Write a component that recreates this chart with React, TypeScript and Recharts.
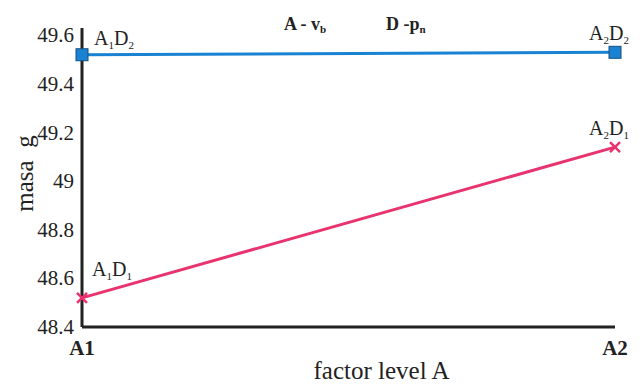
import React from "react";
import { LineChart, Line, XAxis, YAxis, Label } from "recharts";

const levels = ["A1", "A2"];
const d2Values = [49.52, 49.53];
const d1Values = [48.52, 49.14];
const yTicks = [48.4, 48.6, 48.8, 49, 49.2, 49.4, 49.6];
const d2Labels = [["A", "1", "D", "2"], ["A", "2", "D", "2"]];
const d1Labels = [["A", "1", "D", "1"], ["A", "2", "D", "1"]];

const data = levels.map((lvl, i) => ({ lvl, d2: d2Values[i], d1: d1Values[i] }));

const FONT = '"Liberation Serif", serif';
const BLUE = "#1a82d2";
const PINK = "#e8336e";
const INK = "#222";

const SquareDot = (props: any) => {
  const { cx, cy } = props;
  if (cx == null || cy == null) return null;
  return <rect x={cx - 6} y={cy - 6} width={12} height={12} fill={BLUE} stroke="#164f80" strokeWidth={1} />;
};

const CrossDot = (props: any) => {
  const { cx, cy } = props;
  if (cx == null || cy == null) return null;
  return (
    <g stroke={PINK} strokeWidth={2.5}>
      <line x1={cx - 5} y1={cy - 5} x2={cx + 5} y2={cy + 5} />
      <line x1={cx - 5} y1={cy + 5} x2={cx + 5} y2={cy - 5} />
    </g>
  );
};

const YTick = (props: any) => {
  const { x, y, payload } = props;
  return (
    <text x={x} y={y} dy={7} textAnchor="end" style={{ fontFamily: FONT, fontSize: 21 }} fill={INK}>
      {payload.value}
    </text>
  );
};

const XTick = (props: any) => {
  const { x, y, payload } = props;
  return (
    <text x={x} y={y} dy={20} textAnchor="middle" style={{ fontFamily: FONT, fontSize: 21, fontWeight: 700 }} fill={INK}>
      {payload.value}
    </text>
  );
};

const pointLabel = (labels: string[][], dx: number[], dy: number[]) => (props: any) => {
  const { x, y, index } = props;
  const [a, s1, d, s2] = labels[index];
  return (
    <text x={x + dx[index]} y={y + dy[index]} style={{ fontFamily: FONT, fontSize: 20 }} fill={INK}>
      <tspan>{a}</tspan>
      <tspan style={{ fontSize: 11 }} dy={4}>{s1}</tspan>
      <tspan dy={-4}>{d}</tspan>
      <tspan style={{ fontSize: 11 }} dy={4}>{s2}</tspan>
    </text>
  );
};

const App: React.FC = () => (
  <div style={{ position: "relative", width: 634, height: 376, fontFamily: FONT }}>
    <LineChart width={634} height={376} data={data} margin={{ top: 20, right: 27, bottom: 27, left: 0 }}>
      <XAxis dataKey="lvl" height={30} stroke={INK} strokeWidth={3} tickLine={false} tick={<XTick />}>
        <Label
          value="factor level A"
          position="bottom"
          offset={4}
          dx={33}
          style={{ fontFamily: FONT, fontSize: 25, fill: INK }}
        />
      </XAxis>
      <YAxis
        type="number"
        domain={[48.4, 49.63]}
        ticks={yTicks}
        width={74}
        stroke={INK}
        strokeWidth={3}
        tickLine={false}
        tick={<YTick />}
      >
        <Label
          value={"masa\u00a0\u00a0g"}
          angle={-90}
          position="insideLeft"
          offset={16}
          dy={-4}
          style={{ fontFamily: FONT, fontSize: 25, fill: INK, textAnchor: "middle" }}
        />
      </YAxis>
      <Line
        dataKey="d2"
        stroke={BLUE}
        strokeWidth={3}
        dot={<SquareDot />}
        isAnimationActive={false}
        label={pointLabel(d2Labels, [12, -26], [-10, -12])}
      />
      <Line
        dataKey="d1"
        stroke={PINK}
        strokeWidth={3}
        dot={<CrossDot />}
        isAnimationActive={false}
        label={pointLabel(d1Labels, [10, -26], [-22, -12])}
      />
    </LineChart>
    <svg width={634} height={40} style={{ position: "absolute", left: 0, top: 0, pointerEvents: "none" }}>
      <text x={276} y={22} style={{ fontFamily: FONT, fontSize: 18, fontWeight: 700 }} fill={INK}>
        <tspan>A - v</tspan>
        <tspan style={{ fontSize: 11 }} dy={3}>b</tspan>
      </text>
      <text x={378} y={22} style={{ fontFamily: FONT, fontSize: 18, fontWeight: 700 }} fill={INK}>
        <tspan>D -p</tspan>
        <tspan style={{ fontSize: 11 }} dy={3}>n</tspan>
      </text>
    </svg>
  </div>
);

export default App;
